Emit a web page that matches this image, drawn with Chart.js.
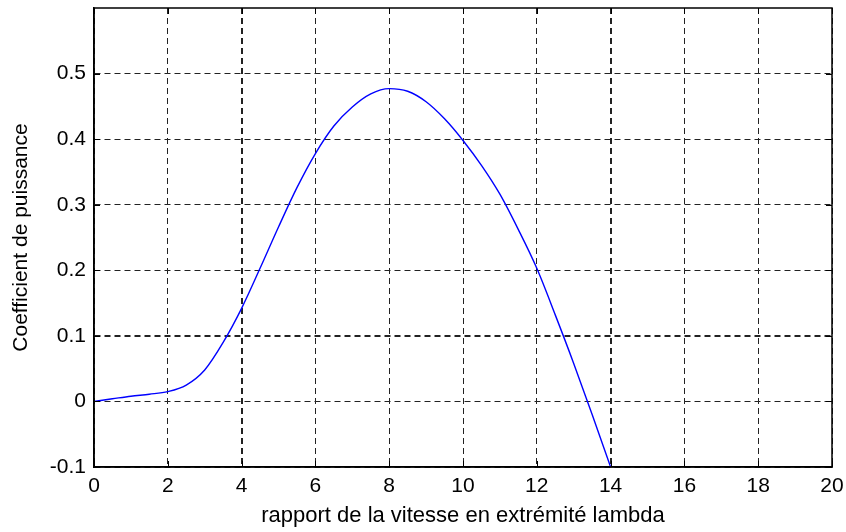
<!DOCTYPE html>
<html>
<head>
<meta charset="utf-8">
<script src="https://cdn.jsdelivr.net/npm/chart.js@4/dist/chart.umd.min.js"></script>
<style>
html,body{margin:0;padding:0;background:#fff;}
#wrap{width:846px;height:532px;}
</style>
</head>
<body>
<div id="wrap"><canvas id="c" width="846" height="532"></canvas></div>
<script>
// Data
const lambdaValues = [0, 0.5, 1, 1.5, 2, 2.5, 3, 3.5, 4, 4.5, 5, 5.5, 6, 6.5, 7, 7.5, 8, 8.5, 9, 9.5, 10, 10.5, 11, 11.5, 12, 12.5, 13, 13.5, 14];
const cpValues = [0, 0.004, 0.008, 0.011, 0.015, 0.025, 0.048, 0.09, 0.142, 0.203, 0.266, 0.326, 0.378, 0.42, 0.449, 0.469, 0.477, 0.473, 0.457, 0.431, 0.398, 0.36, 0.316, 0.262, 0.203, 0.132, 0.058, -0.02, -0.1];
const xTickValues = [0, 2, 4, 6, 8, 10, 12, 14, 16, 18, 20];
const yTickValues = [-0.1, 0, 0.1, 0.2, 0.3, 0.4, 0.5];
const xTitle = 'rapport de la vitesse en extrémité lambda';
const yTitle = 'Coefficient de puissance';

const points = lambdaValues.map((x, i) => ({x: x, y: cpValues[i]}));
const boldX = [4, 14];
const boldY = [0.1];
const FONT = '"Liberation Sans", Arial, sans-serif';

const boxPlugin = {
  id: 'box',
  afterDraw(chart) {
    const ctx = chart.ctx, a = chart.chartArea;
    const xs = chart.scales.x, ys = chart.scales.y;
    ctx.save();
    ctx.strokeStyle = '#000';
    ctx.lineWidth = 1.5;
    ctx.setLineDash([]);
    ctx.strokeRect(a.left, a.top, a.right - a.left, a.bottom - a.top);
    ctx.lineWidth = 1;
    const L = 6;
    ctx.beginPath();
    xTickValues.forEach(v => {
      const px = Math.round(xs.getPixelForValue(v)) + 0.5;
      ctx.moveTo(px, a.bottom); ctx.lineTo(px, a.bottom - L);
      ctx.moveTo(px, a.top); ctx.lineTo(px, a.top + L);
    });
    yTickValues.forEach(v => {
      const py = Math.round(ys.getPixelForValue(v)) + 0.5;
      ctx.moveTo(a.left, py); ctx.lineTo(a.left + L, py);
      ctx.moveTo(a.right, py); ctx.lineTo(a.right - L, py);
    });
    ctx.stroke();
    ctx.restore();
  }
};

new Chart(document.getElementById('c'), {
  type: 'line',
  data: {
    datasets: [{
      data: points,
      borderColor: '#0000ff',
      borderWidth: 1.4,
      pointRadius: 0,
      fill: false,
      cubicInterpolationMode: 'monotone'
    }]
  },
  options: {
    responsive: false,
    animation: false,
    events: [],
    layout: {padding: {left: 0, right: 14, top: 8, bottom: 0}},
    plugins: {legend: {display: false}, tooltip: {enabled: false}},
    scales: {
      x: {
        type: 'linear',
        min: 0, max: 20,
        afterBuildTicks(scale) { scale.ticks = xTickValues.map(v => ({value: v})); },
        afterFit(scale) { scale.height = 65; scale.paddingLeft = 0; scale.paddingRight = 0; },
        grid: {
          color: '#222',
          lineWidth: c => boldX.includes(c.tick && c.tick.value) ? 2 : 1,
          drawTicks: false
        },
        border: {display: true, color: '#000', width: 1.5, dash: [6, 4]},
        ticks: {
          color: '#000',
          font: {family: FONT, size: 21},
          padding: 7,
          maxRotation: 0,
          callback: v => String(v)
        },
        title: {
          display: true,
          text: xTitle,
          color: '#000',
          font: {family: FONT, size: 22},
          padding: {top: 0, bottom: 3}
        }
      },
      y: {
        type: 'linear',
        min: -0.1, max: 0.6,
        afterBuildTicks(scale) { scale.ticks = yTickValues.map(v => ({value: v})); },
        afterFit(scale) { scale.width = 94; scale.paddingTop = 0; scale.paddingBottom = 0; },
        grid: {
          color: '#222',
          lineWidth: c => (c.tick && boldY.some(b => Math.abs(b - c.tick.value) < 1e-9)) ? 2 : 1,
          drawTicks: false
        },
        border: {display: true, color: '#000', width: 1.5, dash: [6, 4]},
        ticks: {
          color: '#000',
          font: {family: FONT, size: 21},
          padding: 8,
          callback: v => String(Math.round(v * 10) / 10)
        },
        title: {
          display: true,
          text: yTitle,
          color: '#000',
          font: {family: FONT, size: 21},
          padding: {top: 9, bottom: 0}
        }
      }
    }
  },
  plugins: [boxPlugin]
});
</script>
</body>
</html>
